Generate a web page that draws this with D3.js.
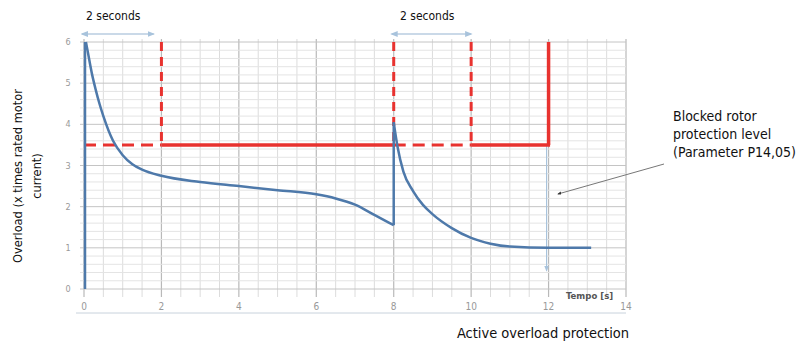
<!DOCTYPE html>
<html lang="en">
<head>
<meta charset="UTF-8" />
<title>Overload protection</title>
<script src="https://d3js.org/d3.v7.min.js"></script>
<style>
  body { margin: 0; background: #fff; }
  text { font-family: "Liberation Sans Narrow", "DejaVu Sans Condensed", sans-serif; }
</style>
</head>
<body>
<svg id="chart" width="797" height="345"></svg>
<script>
// data
const xTicks = [0, 2, 4, 6, 8, 10, 12, 14];
const yTicks = [0, 1, 2, 3, 4, 5, 6];

// first overload, starting at t = 0
const time1 = [0.05, 0.1, 0.2, 0.3, 0.4, 0.5, 0.75, 1, 1.25, 1.5, 2, 3, 4, 5, 6, 6.5, 7, 7.5, 8];
const load1 = [6.0, 5.75, 5.25, 4.85, 4.5, 4.2, 3.6, 3.25, 3.03, 2.9, 2.75, 2.6, 2.5, 2.4, 2.3, 2.2, 2.05, 1.8, 1.55];

// second overload, starting at t = 8
const time2 = [8, 8.1, 8.25, 8.5, 8.75, 9, 9.5, 10, 10.5, 11, 12, 13.1];
const load2 = [4.05, 3.45, 2.85, 2.38, 2.05, 1.82, 1.48, 1.24, 1.1, 1.03, 1.0, 1.0];

const protectionLevel = 3.5;
const dashedStarts = [2, 8, 10];        // dashed vertical lines
const dashedLevel = [[0, 2], [8, 10]];   // dashed parts of the level
const solidLevel = [[2, 8], [10, 12]];   // solid parts of the level
const tripTime = 12;
const spans = [[0, 1.8], [8, 10]];       // "2 seconds" arrows

const svg = d3.select("#chart");
const x = d3.scaleLinear().domain([0, 14]).range([84, 626]);
const y = d3.scaleLinear().domain([0, 6]).range([289, 42]);

const defs = svg.append("defs");
function marker(id, color, size) {
    defs.append("marker")
        .attr("id", id)
        .attr("viewBox", "0 0 10 10")
        .attr("refX", 8).attr("refY", 5)
        .attr("markerWidth", size).attr("markerHeight", size)
        .attr("orient", "auto-start-reverse")
        .append("path")
        .attr("d", "M0,1 L10,5 L0,9 Z")
        .attr("fill", color);
}
marker("arrowBlue", "#a8c3dc", 5);
marker("arrowDark", "#333", 4);

// grid
const grid = svg.append("g");
grid.selectAll(".vminor")
    .data(d3.range(0, 14.01, 0.5))
    .join("line")
    .attr("x1", d => x(d)).attr("x2", d => x(d))
    .attr("y1", y(6) - 3).attr("y2", y(0) + 8)
    .attr("stroke", d => d % 2 === 0 ? "#b9b9b9" : "#dcdcdc")
    .attr("stroke-width", d => d % 2 === 0 ? 1.2 : 1);
grid.selectAll(".hminor")
    .data(d3.range(0, 6.01, 0.2))
    .join("line")
    .attr("x1", x(0) - 4).attr("x2", x(14))
    .attr("y1", d => y(d)).attr("y2", d => y(d))
    .attr("stroke", d => Math.abs(d - Math.round(d)) < 0.01 ? "#c4c4c4" : "#e4e4e4")
    .attr("stroke-width", 1);

// axis labels
svg.append("g").selectAll("text")
    .data(yTicks)
    .join("text")
    .attr("x", 68).attr("y", d => y(d) + 3)
    .attr("text-anchor", "middle")
    .attr("font-size", 9).attr("fill", "#999")
    .text(d => d);
svg.append("g").selectAll("text")
    .data(xTicks)
    .join("text")
    .attr("x", d => x(d)).attr("y", 310)
    .attr("text-anchor", "middle")
    .attr("font-size", 10).attr("fill", "#999")
    .text(d => d);
svg.append("line")
    .attr("x1", 76).attr("x2", x(14))
    .attr("y1", 313).attr("y2", 313)
    .attr("stroke", "#c8d2dc").attr("stroke-width", 1);
svg.append("text")
    .attr("x", 566).attr("y", 299)
    .attr("font-size", 9.5).attr("font-weight", "bold").attr("fill", "#555")
    .text("Tempo [s]");

// blue helper arrows
spans.forEach(s => {
    svg.append("line")
        .attr("x1", x(s[0]) - 2).attr("x2", x(s[1]))
        .attr("y1", 34).attr("y2", 34)
        .attr("stroke", "#b8cde0").attr("stroke-width", 1.5)
        .attr("marker-start", "url(#arrowBlue)")
        .attr("marker-end", "url(#arrowBlue)");
});
svg.append("line")
    .attr("x1", x(tripTime) - 2).attr("x2", x(tripTime) - 2)
    .attr("y1", y(protectionLevel)).attr("y2", y(0.45))
    .attr("stroke", "#a8c3dc").attr("stroke-width", 1.2)
    .attr("marker-end", "url(#arrowBlue)");

// red protection level
const red = "#e8322f";
const redG = svg.append("g").attr("stroke", red).attr("fill", "none");
redG.selectAll(".dv")
    .data(dashedStarts)
    .join("line")
    .attr("x1", d => x(d)).attr("x2", d => x(d))
    .attr("y1", y(6)).attr("y2", y(protectionLevel))
    .attr("stroke-width", 3)
    .attr("stroke-dasharray", "9,6");
redG.selectAll(".dh")
    .data(dashedLevel)
    .join("line")
    .attr("x1", d => x(d[0])).attr("x2", d => x(d[1]))
    .attr("y1", y(protectionLevel)).attr("y2", y(protectionLevel))
    .attr("stroke-width", 3)
    .attr("stroke-dasharray", "12,7");
redG.selectAll(".sh")
    .data(solidLevel)
    .join("line")
    .attr("x1", d => x(d[0])).attr("x2", d => x(d[1]) + 1.5)
    .attr("y1", y(protectionLevel)).attr("y2", y(protectionLevel))
    .attr("stroke-width", 3.5);
redG.append("line")
    .attr("x1", x(tripTime)).attr("x2", x(tripTime))
    .attr("y1", y(6)).attr("y2", y(protectionLevel))
    .attr("stroke-width", 3.5);

// blue overload curve
const blue = "#4e79aa";
const line = d3.line().x(d => x(d[0])).y(d => y(d[1])).curve(d3.curveMonotoneX);
const curveG = svg.append("g").attr("stroke", blue).attr("fill", "none")
    .attr("stroke-width", 2.5).attr("stroke-linejoin", "round");
curveG.append("line")
    .attr("x1", x(0) + 1).attr("x2", x(0) + 1)
    .attr("y1", y(0)).attr("y2", y(load1[0]));
curveG.append("path").attr("d", line(d3.zip(time1, load1)));
curveG.append("line")
    .attr("x1", x(time2[0])).attr("x2", x(time2[0]))
    .attr("y1", y(load1[load1.length - 1])).attr("y2", y(load2[0]));
curveG.append("path").attr("d", line(d3.zip(time2, load2)));

// annotation arrow
svg.append("line")
    .attr("x1", 664).attr("y1", 164)
    .attr("x2", 558).attr("y2", 194)
    .attr("stroke", "#777").attr("stroke-width", 1)
    .attr("marker-end", "url(#arrowDark)");

// texts
svg.append("text").attr("x", 86).attr("y", 20)
    .attr("font-size", 12).attr("fill", "#111").text("2 seconds");
svg.append("text").attr("x", 400).attr("y", 20)
    .attr("font-size", 12).attr("fill", "#111").text("2 seconds");

const note = svg.append("text").attr("x", 673).attr("font-size", 14).attr("fill", "#111");
["Blocked rotor", "protection level", "(Parameter P14,05)"].forEach((t, i) => {
    note.append("tspan").attr("x", 673).attr("y", 121 + i * 18).text(t);
});

svg.append("text").attr("x", 543).attr("y", 338)
    .attr("text-anchor", "middle").attr("font-size", 14.5).attr("fill", "#111")
    .text("Active overload protection");

const yl = svg.append("text")
    .attr("transform", "translate(22,176) rotate(-90)")
    .attr("text-anchor", "middle").attr("font-size", 12.7).attr("fill", "#111");
yl.append("tspan").attr("x", 0).attr("y", 0).text("Overload (x times rated motor");
yl.append("tspan").attr("x", 0).attr("y", 19).text("current)");
</script>
</body>
</html>
